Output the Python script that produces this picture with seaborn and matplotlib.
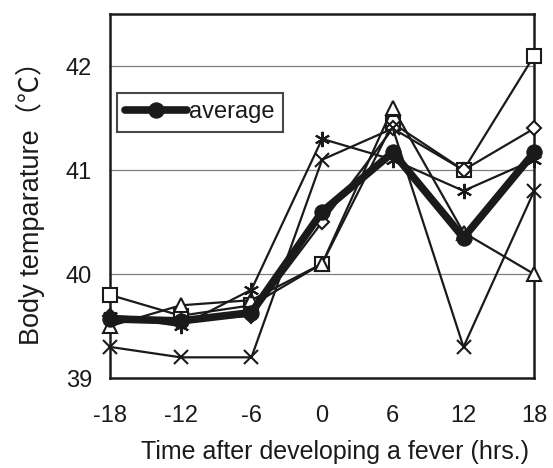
import matplotlib
matplotlib.use("Agg")
import matplotlib.pyplot as plt
import seaborn as sns
import numpy as np

# Hours relative to fever onset
hours = [-18, -12, -6, 0, 6, 12, 18]

# Body temperature of each animal (°C)
temp_square = [39.8, 39.6, 39.7, 40.1, 41.45, 41.0, 42.1]
temp_diamond = [39.6, 39.55, 39.6, 40.5, 41.4, 41.0, 41.4]
temp_triangle = [39.5, 39.7, 39.75, 40.1, 41.6, 40.4, 40.0]
temp_cross = [39.3, 39.2, 39.2, 41.1, 41.4, 39.3, 40.8]
temp_star = [39.6, 39.5, 39.85, 41.3, 41.1, 40.8, 41.1]

# Group mean
temp_average = [39.57, 39.55, 39.63, 40.6, 41.17, 40.35, 41.17]

y_ticks = [39, 40, 41, 42]
x_ticks = [-18, -12, -6, 0, 6, 12, 18]

sns.set_theme(style="white")
plt.rcParams["font.family"] = ["Liberation Sans", "Noto Sans CJK JP", "DejaVu Sans"]

fig = plt.figure(figsize=(5.53, 4.68), dpi=100)
ax = fig.add_axes([0.199, 0.192, 0.767, 0.778])

for yv in [40, 41, 42]:
    ax.axhline(yv, color="#808080", lw=0.9, zorder=0)

star_marker = (6, 2, 0)
individuals = [
    (temp_square, "s", 9.5),
    (temp_diamond, "D", 7.5),
    (temp_triangle, "^", 9.5),
    (temp_cross, "x", 10),
    (temp_star, star_marker, 11),
]
for vals, mk, ms in individuals:
    sns.lineplot(x=hours, y=vals, ax=ax, color="#1a1a1a", lw=1.6,
                 marker=mk, markersize=ms, markerfacecolor="white",
                 markeredgecolor="#1a1a1a", markeredgewidth=1.5,
                 clip_on=False, zorder=3)

sns.lineplot(x=hours, y=temp_average, ax=ax, color="#1a1a1a", lw=5.5,
             marker="o", markersize=11, markerfacecolor="#1a1a1a",
             markeredgecolor="#1a1a1a", clip_on=False, zorder=5,
             label="average")

ax.set_xlim(-18, 18)
ax.set_ylim(39, 42.5)
ax.set_xticks(x_ticks)
ax.set_yticks(y_ticks)
ax.set_xticklabels([str(v) for v in x_ticks], fontsize=17)
ax.set_yticklabels([str(v) for v in y_ticks], fontsize=17)
ax.tick_params(axis="both", direction="in", length=6, width=1.5,
               color="#1a1a1a", labelcolor="#1a1a1a")
ax.tick_params(axis="y", pad=13)
ax.tick_params(axis="x", pad=19)

for sp in ax.spines.values():
    sp.set_color("#1a1a1a")
    sp.set_linewidth(1.8)
    sp.set_visible(True)

ax.set_xlabel("Time after developing a fever (hrs.)", fontsize=18,
              color="#1a1a1a", labelpad=10)
ax.xaxis.set_label_coords(0.53, -0.17)
ax.set_ylabel("Body temparature（℃）", fontsize=19.5, color="#1a1a1a",
              labelpad=15)

leg = ax.legend(loc="upper left", bbox_to_anchor=(0.0165, 0.783),
                fontsize=17, frameon=True, fancybox=False,
                handlelength=2.6, handletextpad=0.1, borderpad=0.35,
                borderaxespad=0)
leg.get_frame().set_edgecolor("#1a1a1a")
leg.get_frame().set_linewidth(1.5)
for t in leg.get_texts():
    t.set_color("#1a1a1a")

fig.savefig("out.png", dpi=100, facecolor="white")
